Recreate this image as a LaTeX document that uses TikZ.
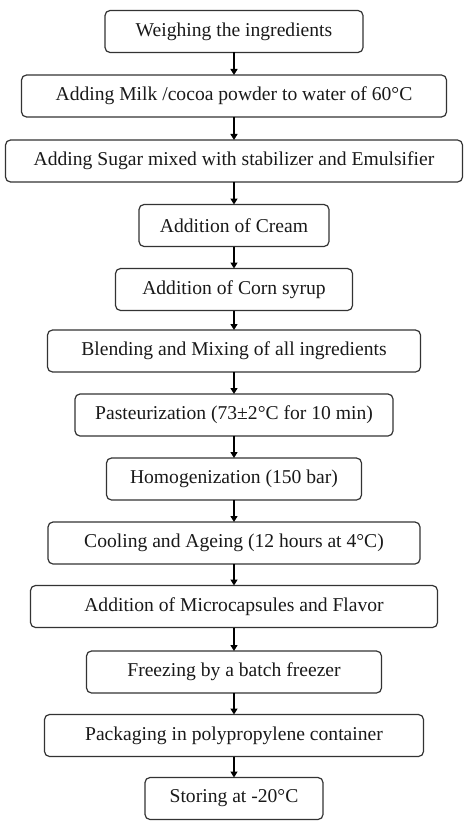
\documentclass[tikz,border=0pt]{standalone}
\usepackage{fontspec}
\setmainfont{Liberation Serif}
\usetikzlibrary{arrows.meta}
\tikzset{
  stepbox/.style={draw=black!80, line width=1.2pt, rounded corners=5pt, minimum height=42pt, inner xsep=0pt, font=\fontsize{19.6}{22}\selectfont, text=black!90},
  flow/.style={draw=black, line width=1.4pt, -{Triangle[length=6pt,width=7pt]}, shorten <=-0.6pt, shorten >=-0.6pt}
}
\begin{document}
\begin{tikzpicture}[x=1pt, y=-1pt]
\useasboundingbox (0,0) rectangle (474,829);
\node[stepbox, minimum width=258pt] (weigh) at (234,31.5) {Weighing the ingredients};
\node[stepbox, minimum width=425pt] (milk) at (234,96) {Adding Milk /cocoa powder to water of 60°C};
\node[stepbox, minimum width=457pt] (sugar) at (234,161) {Adding Sugar mixed with stabilizer and Emulsifier};
\node[stepbox, minimum width=190pt] (cream) at (234,225.5) {Addition of Cream};
\node[stepbox, minimum width=237pt] (syrup) at (234,289.5) {Addition of Corn syrup};
\node[stepbox, minimum width=373pt] (blend) at (234,351) {Blending and Mixing of all ingredients};
\node[stepbox, minimum width=318pt] (pasteur) at (234,415) {Pasteurization (73±2°C for 10 min)};
\node[stepbox, minimum width=255pt] (homog) at (234,479) {Homogenization (150 bar)};
\node[stepbox, minimum width=372pt] (cool) at (234,543) {Cooling and Ageing (12 hours at 4°C)};
\node[stepbox, minimum width=407pt] (microcap) at (234,606.5) {Addition of Microcapsules and Flavor};
\node[stepbox, minimum width=295pt] (freeze) at (234,672) {Freezing by a batch freezer};
\node[stepbox, minimum width=379pt] (pack) at (234,735.5) {Packaging in polypropylene container};
\node[stepbox, minimum width=178pt] (store) at (234,798.5) {Storing at -20°C};
\draw[flow] (weigh) -- (milk);
\draw[flow] (milk) -- (sugar);
\draw[flow] (sugar) -- (cream);
\draw[flow] (cream) -- (syrup);
\draw[flow] (syrup) -- (blend);
\draw[flow] (blend) -- (pasteur);
\draw[flow] (pasteur) -- (homog);
\draw[flow] (homog) -- (cool);
\draw[flow] (cool) -- (microcap);
\draw[flow] (microcap) -- (freeze);
\draw[flow] (freeze) -- (pack);
\draw[flow] (pack) -- (store);
\end{tikzpicture}
\end{document}
